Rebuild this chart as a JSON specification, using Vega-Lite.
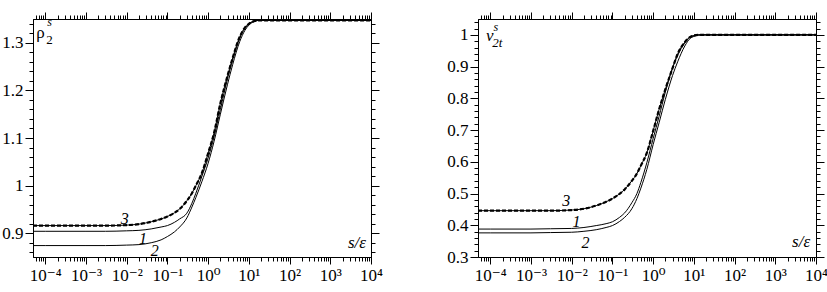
{
  "$schema": "https://vega.github.io/schema/vega-lite/v6.json",
  "background": "white",
  "padding": {"left": 1, "top": 11, "right": 0, "bottom": 0},
  "spacing": 63,
  "config": {
    "view": {"stroke": "black", "strokeWidth": 1},
    "font": "Times New Roman, Liberation Serif, DejaVu Serif, serif",
    "text": {"font": "Times New Roman, Liberation Serif, DejaVu Serif, serif"},
    "axis": {"grid": false, "domainColor": "black", "tickColor": "black", "labelColor": "black", "labelFont": "Times New Roman, Liberation Serif, DejaVu Serif, serif", "labelFontSize": 17, "title": null, "labelFlush": false, "labelOverlap": false, "labelBound": false}
  },
  "datasets": {
    "rho": [
      {"s":5e-5,"y":0.916,"c":3},{"s":1e-4,"y":0.916,"c":3},{"s":1e-3,"y":0.916,"c":3},{"s":0.003,"y":0.916,"c":3},{"s":0.01,"y":0.917,"c":3},{"s":0.02,"y":0.919,"c":3},{"s":0.04,"y":0.924,"c":3},{"s":0.07,"y":0.930,"c":3},{"s":0.1,"y":0.935,"c":3},{"s":0.15,"y":0.943,"c":3},{"s":0.2,"y":0.951,"c":3},{"s":0.3,"y":0.968,"c":3},{"s":0.4,"y":0.984,"c":3},{"s":0.5,"y":1.000,"c":3},{"s":0.7,"y":1.026,"c":3},{"s":1,"y":1.068,"c":3},{"s":1.4,"y":1.111,"c":3},{"s":2,"y":1.173,"c":3},{"s":3,"y":1.231,"c":3},{"s":4,"y":1.268,"c":3},{"s":6,"y":1.313,"c":3},{"s":8,"y":1.332,"c":3},{"s":10,"y":1.340,"c":3},{"s":13,"y":1.345,"c":3},{"s":17,"y":1.347,"c":3},{"s":25,"y":1.347,"c":3},{"s":100,"y":1.347,"c":3},{"s":1000,"y":1.347,"c":3},{"s":10000,"y":1.347,"c":3},
      {"s":5e-5,"y":0.904,"c":1},{"s":1e-4,"y":0.904,"c":1},{"s":1e-3,"y":0.904,"c":1},{"s":0.003,"y":0.904,"c":1},{"s":0.01,"y":0.905,"c":1},{"s":0.02,"y":0.906,"c":1},{"s":0.04,"y":0.909,"c":1},{"s":0.07,"y":0.913,"c":1},{"s":0.1,"y":0.916,"c":1},{"s":0.15,"y":0.923,"c":1},{"s":0.2,"y":0.930,"c":1},{"s":0.3,"y":0.942,"c":1},{"s":0.4,"y":0.963,"c":1},{"s":0.5,"y":0.984,"c":1},{"s":0.7,"y":1.019,"c":1},{"s":1,"y":1.058,"c":1},{"s":1.4,"y":1.103,"c":1},{"s":2,"y":1.160,"c":1},{"s":3,"y":1.225,"c":1},{"s":4,"y":1.264,"c":1},{"s":6,"y":1.310,"c":1},{"s":8,"y":1.330,"c":1},{"s":10,"y":1.340,"c":1},{"s":13,"y":1.345,"c":1},{"s":17,"y":1.347,"c":1},{"s":25,"y":1.347,"c":1},{"s":100,"y":1.347,"c":1},{"s":1000,"y":1.347,"c":1},{"s":10000,"y":1.347,"c":1},
      {"s":5e-5,"y":0.874,"c":2},{"s":1e-4,"y":0.874,"c":2},{"s":1e-3,"y":0.874,"c":2},{"s":0.003,"y":0.874,"c":2},{"s":0.01,"y":0.875,"c":2},{"s":0.02,"y":0.876,"c":2},{"s":0.04,"y":0.880,"c":2},{"s":0.07,"y":0.886,"c":2},{"s":0.1,"y":0.893,"c":2},{"s":0.15,"y":0.903,"c":2},{"s":0.2,"y":0.913,"c":2},{"s":0.3,"y":0.932,"c":2},{"s":0.4,"y":0.955,"c":2},{"s":0.5,"y":0.975,"c":2},{"s":0.7,"y":1.008,"c":2},{"s":1,"y":1.047,"c":2},{"s":1.4,"y":1.093,"c":2},{"s":2,"y":1.150,"c":2},{"s":3,"y":1.213,"c":2},{"s":4,"y":1.254,"c":2},{"s":6,"y":1.303,"c":2},{"s":8,"y":1.326,"c":2},{"s":10,"y":1.337,"c":2},{"s":13,"y":1.344,"c":2},{"s":17,"y":1.347,"c":2},{"s":25,"y":1.347,"c":2},{"s":100,"y":1.347,"c":2},{"s":1000,"y":1.347,"c":2},{"s":10000,"y":1.347,"c":2}
    ],
    "v": [
      {"s":5e-5,"y":0.446,"c":3},{"s":1e-4,"y":0.446,"c":3},{"s":1e-3,"y":0.446,"c":3},{"s":0.003,"y":0.446,"c":3},{"s":0.01,"y":0.448,"c":3},{"s":0.02,"y":0.452,"c":3},{"s":0.04,"y":0.462,"c":3},{"s":0.07,"y":0.474,"c":3},{"s":0.1,"y":0.484,"c":3},{"s":0.15,"y":0.499,"c":3},{"s":0.2,"y":0.513,"c":3},{"s":0.3,"y":0.540,"c":3},{"s":0.4,"y":0.563,"c":3},{"s":0.5,"y":0.588,"c":3},{"s":0.7,"y":0.628,"c":3},{"s":1,"y":0.697,"c":3},{"s":1.4,"y":0.765,"c":3},{"s":2,"y":0.829,"c":3},{"s":3,"y":0.895,"c":3},{"s":4,"y":0.940,"c":3},{"s":6,"y":0.977,"c":3},{"s":8,"y":0.993,"c":3},{"s":10,"y":0.998,"c":3},{"s":13,"y":1.0,"c":3},{"s":17,"y":1.0,"c":3},{"s":25,"y":1.0,"c":3},{"s":100,"y":1.0,"c":3},{"s":1000,"y":1.0,"c":3},{"s":10000,"y":1.0,"c":3},
      {"s":5e-5,"y":0.388,"c":1},{"s":1e-4,"y":0.388,"c":1},{"s":1e-3,"y":0.388,"c":1},{"s":0.003,"y":0.389,"c":1},{"s":0.01,"y":0.390,"c":1},{"s":0.02,"y":0.393,"c":1},{"s":0.04,"y":0.399,"c":1},{"s":0.07,"y":0.405,"c":1},{"s":0.1,"y":0.411,"c":1},{"s":0.15,"y":0.425,"c":1},{"s":0.2,"y":0.439,"c":1},{"s":0.3,"y":0.471,"c":1},{"s":0.4,"y":0.500,"c":1},{"s":0.5,"y":0.535,"c":1},{"s":0.7,"y":0.597,"c":1},{"s":1,"y":0.673,"c":1},{"s":1.4,"y":0.743,"c":1},{"s":2,"y":0.820,"c":1},{"s":3,"y":0.896,"c":1},{"s":4,"y":0.935,"c":1},{"s":6,"y":0.975,"c":1},{"s":8,"y":0.993,"c":1},{"s":10,"y":0.997,"c":1},{"s":13,"y":1.0,"c":1},{"s":17,"y":1.0,"c":1},{"s":25,"y":1.0,"c":1},{"s":100,"y":1.0,"c":1},{"s":1000,"y":1.0,"c":1},{"s":10000,"y":1.0,"c":1},
      {"s":5e-5,"y":0.376,"c":2},{"s":1e-4,"y":0.376,"c":2},{"s":1e-3,"y":0.376,"c":2},{"s":0.003,"y":0.377,"c":2},{"s":0.01,"y":0.378,"c":2},{"s":0.02,"y":0.381,"c":2},{"s":0.04,"y":0.386,"c":2},{"s":0.07,"y":0.393,"c":2},{"s":0.1,"y":0.399,"c":2},{"s":0.15,"y":0.412,"c":2},{"s":0.2,"y":0.425,"c":2},{"s":0.3,"y":0.452,"c":2},{"s":0.4,"y":0.484,"c":2},{"s":0.5,"y":0.517,"c":2},{"s":0.7,"y":0.576,"c":2},{"s":1,"y":0.654,"c":2},{"s":1.4,"y":0.723,"c":2},{"s":2,"y":0.797,"c":2},{"s":3,"y":0.872,"c":2},{"s":4,"y":0.915,"c":2},{"s":6,"y":0.965,"c":2},{"s":8,"y":0.988,"c":2},{"s":10,"y":0.995,"c":2},{"s":13,"y":0.999,"c":2},{"s":17,"y":1.0,"c":2},{"s":25,"y":1.0,"c":2},{"s":100,"y":1.0,"c":2},{"s":1000,"y":1.0,"c":2},{"s":10000,"y":1.0,"c":2}
    ]
  },
  "hconcat": [
    {
      "width": 338, "height": 238,
      "data": {"name": "rho"},
      "resolve": {"axis": {"x": "independent", "y": "independent"}},
      "layer": [
        {
          "mark": {"type": "line", "color": "black", "strokeWidth": 1, "interpolate": "monotone", "clip": true},
          "encoding": {
            "x": {"field": "s", "type": "quantitative", "scale": {"type": "log", "domain": [5e-5, 10000], "nice": false},
              "axis": {"orient": "bottom", "values": [6e-5,7e-5,8e-5,9e-5,0.0001,0.0002,0.0003,0.0004,0.0005,0.0006,0.0007,0.0008,0.0009,0.001,0.002,0.003,0.004,0.005,0.006,0.007,0.008,0.009,0.01,0.02,0.03,0.04,0.05,0.06,0.07,0.08,0.09,0.1,0.2,0.3,0.4,0.5,0.6,0.7,0.8,0.9,1,2,3,4,5,6,7,8,9,10,20,30,40,50,60,70,80,90,100,200,300,400,500,600,700,800,900,1000,2000,3000,4000,5000,6000,7000,8000,9000,10000],
                "labelExpr": "abs(log(datum.value)/LN10 - round(log(datum.value)/LN10)) < 1e-6 ? '10' + ['⁻⁴','⁻³','⁻²','⁻¹','⁰','¹','²','³','⁴'][round(log(datum.value)/LN10) + 4] : ''",
                "tickSize": {"condition": {"test": "abs(log(datum.value)/LN10 - round(log(datum.value)/LN10)) < 1e-6", "value": 7}, "value": 4},
                "labelPadding": 3}},
            "y": {"field": "y", "type": "quantitative", "scale": {"domain": [0.85, 1.35], "zero": false, "nice": false},
              "axis": {"orient": "left", "values": [0.86,0.88,0.9,0.92,0.94,0.96,0.98,1,1.02,1.04,1.06,1.08,1.1,1.12,1.14,1.16,1.18,1.2,1.22,1.24,1.26,1.28,1.3,1.32,1.34],
                "labelExpr": "abs(datum.value*10 - round(datum.value*10)) < 1e-6 ? toString(round(datum.value*10)/10) : ''",
                "tickSize": {"condition": {"test": "abs(datum.value*10 - round(datum.value*10)) < 1e-6", "value": 8}, "value": 4},
                "labelPadding": 2}},
            "detail": {"field": "c", "type": "nominal"}
          }
        },
        {
          "transform": [{"filter": "datum.c == 3"}],
          "mark": {"type": "line", "color": "black", "strokeWidth": 2.2, "strokeDash": [4, 2], "interpolate": "monotone", "clip": true},
          "encoding": {
            "x": {"field": "s", "type": "quantitative", "scale": {"type": "log", "domain": [5e-5, 10000], "nice": false},
              "axis": {"orient": "top", "labels": false, "values": [6e-5,7e-5,8e-5,9e-5,0.0001,0.0002,0.0003,0.0004,0.0005,0.0006,0.0007,0.0008,0.0009,0.001,0.002,0.003,0.004,0.005,0.006,0.007,0.008,0.009,0.01,0.02,0.03,0.04,0.05,0.06,0.07,0.08,0.09,0.1,0.2,0.3,0.4,0.5,0.6,0.7,0.8,0.9,1,2,3,4,5,6,7,8,9,10,20,30,40,50,60,70,80,90,100,200,300,400,500,600,700,800,900,1000,2000,3000,4000,5000,6000,7000,8000,9000,10000],
                "tickSize": {"condition": {"test": "abs(log(datum.value)/LN10 - round(log(datum.value)/LN10)) < 1e-6", "value": 7}, "value": 4}}},
            "y": {"field": "y", "type": "quantitative", "scale": {"domain": [0.85, 1.35], "zero": false, "nice": false},
              "axis": {"orient": "right", "labels": false, "values": [0.86,0.88,0.9,0.92,0.94,0.96,0.98,1,1.02,1.04,1.06,1.08,1.1,1.12,1.14,1.16,1.18,1.2,1.22,1.24,1.26,1.28,1.3,1.32,1.34],
                "tickSize": {"condition": {"test": "abs(datum.value*10 - round(datum.value*10)) < 1e-6", "value": 8}, "value": 4}}}
          }
        },
        {
          "data": {"values": [{"s": 0.0089, "y": 0.920, "t": "3"}, {"s": 0.0251, "y": 0.878, "t": "1"}, {"s": 0.049, "y": 0.853, "t": "2"}]},
          "mark": {"type": "text", "fontStyle": "italic", "fontSize": 16, "align": "center", "baseline": "alphabetic", "color": "black"},
          "encoding": {"x": {"field": "s", "type": "quantitative", "axis": null}, "y": {"field": "y", "type": "quantitative", "axis": null}, "text": {"field": "t"}}
        },
        {
          "data": {"values": [{"s": 7560, "y": 0.868, "t": "s/ε"}]},
          "mark": {"type": "text", "fontStyle": "italic", "fontSize": 17, "align": "right", "baseline": "alphabetic", "color": "black"},
          "encoding": {"x": {"field": "s", "type": "quantitative", "axis": null}, "y": {"field": "y", "type": "quantitative", "axis": null}, "text": {"field": "t"}}
        },
        {
          "data": {"values": [{"s": 6.0e-5, "y": 1.310, "t": "ρ"}]},
          "mark": {"type": "text", "fontSize": 17, "align": "left", "baseline": "alphabetic", "color": "black"},
          "encoding": {"x": {"field": "s", "type": "quantitative", "axis": null}, "y": {"field": "y", "type": "quantitative", "axis": null}, "text": {"field": "t"}}
        },
        {
          "data": {"values": [{"s": 1.12e-4, "y": 1.335, "t": "s"}]},
          "mark": {"type": "text", "fontStyle": "italic", "fontSize": 12, "align": "left", "baseline": "alphabetic", "color": "black"},
          "encoding": {"x": {"field": "s", "type": "quantitative", "axis": null}, "y": {"field": "y", "type": "quantitative", "axis": null}, "text": {"field": "t"}}
        },
        {
          "data": {"values": [{"s": 1.06e-4, "y": 1.297, "t": "2"}]},
          "mark": {"type": "text", "fontSize": 13, "align": "left", "baseline": "alphabetic", "color": "black"},
          "encoding": {"x": {"field": "s", "type": "quantitative", "axis": null}, "y": {"field": "y", "type": "quantitative", "axis": null}, "text": {"field": "t"}}
        }
      ]
    },
    {
      "width": 338, "height": 238,
      "data": {"name": "v"},
      "resolve": {"axis": {"x": "independent", "y": "independent"}},
      "layer": [
        {
          "mark": {"type": "line", "color": "black", "strokeWidth": 1, "interpolate": "monotone", "clip": true},
          "encoding": {
            "x": {"field": "s", "type": "quantitative", "scale": {"type": "log", "domain": [5e-5, 10000], "nice": false},
              "axis": {"orient": "bottom", "values": [6e-5,7e-5,8e-5,9e-5,0.0001,0.0002,0.0003,0.0004,0.0005,0.0006,0.0007,0.0008,0.0009,0.001,0.002,0.003,0.004,0.005,0.006,0.007,0.008,0.009,0.01,0.02,0.03,0.04,0.05,0.06,0.07,0.08,0.09,0.1,0.2,0.3,0.4,0.5,0.6,0.7,0.8,0.9,1,2,3,4,5,6,7,8,9,10,20,30,40,50,60,70,80,90,100,200,300,400,500,600,700,800,900,1000,2000,3000,4000,5000,6000,7000,8000,9000,10000],
                "labelExpr": "abs(log(datum.value)/LN10 - round(log(datum.value)/LN10)) < 1e-6 ? '10' + ['⁻⁴','⁻³','⁻²','⁻¹','⁰','¹','²','³','⁴'][round(log(datum.value)/LN10) + 4] : ''",
                "tickSize": {"condition": {"test": "abs(log(datum.value)/LN10 - round(log(datum.value)/LN10)) < 1e-6", "value": 7}, "value": 4},
                "labelPadding": 3}},
            "y": {"field": "y", "type": "quantitative", "scale": {"domain": [0.3, 1.05], "zero": false, "nice": false},
              "axis": {"orient": "left", "values": [0.3,0.32,0.34,0.36,0.38,0.4,0.42,0.44,0.46,0.48,0.5,0.52,0.54,0.56,0.58,0.6,0.62,0.64,0.66,0.68,0.7,0.72,0.74,0.76,0.78,0.8,0.82,0.84,0.86,0.88,0.9,0.92,0.94,0.96,0.98,1,1.02,1.04],
                "labelExpr": "abs(datum.value*10 - round(datum.value*10)) < 1e-6 ? toString(round(datum.value*10)/10) : ''",
                "tickSize": {"condition": {"test": "abs(datum.value*10 - round(datum.value*10)) < 1e-6", "value": 8}, "value": 4},
                "labelPadding": 2}},
            "detail": {"field": "c", "type": "nominal"}
          }
        },
        {
          "transform": [{"filter": "datum.c == 3"}],
          "mark": {"type": "line", "color": "black", "strokeWidth": 2.2, "strokeDash": [4, 2], "interpolate": "monotone", "clip": true},
          "encoding": {
            "x": {"field": "s", "type": "quantitative", "scale": {"type": "log", "domain": [5e-5, 10000], "nice": false},
              "axis": {"orient": "top", "labels": false, "values": [6e-5,7e-5,8e-5,9e-5,0.0001,0.0002,0.0003,0.0004,0.0005,0.0006,0.0007,0.0008,0.0009,0.001,0.002,0.003,0.004,0.005,0.006,0.007,0.008,0.009,0.01,0.02,0.03,0.04,0.05,0.06,0.07,0.08,0.09,0.1,0.2,0.3,0.4,0.5,0.6,0.7,0.8,0.9,1,2,3,4,5,6,7,8,9,10,20,30,40,50,60,70,80,90,100,200,300,400,500,600,700,800,900,1000,2000,3000,4000,5000,6000,7000,8000,9000,10000],
                "tickSize": {"condition": {"test": "abs(log(datum.value)/LN10 - round(log(datum.value)/LN10)) < 1e-6", "value": 7}, "value": 4}}},
            "y": {"field": "y", "type": "quantitative", "scale": {"domain": [0.3, 1.05], "zero": false, "nice": false},
              "axis": {"orient": "right", "labels": false, "values": [0.3,0.32,0.34,0.36,0.38,0.4,0.42,0.44,0.46,0.48,0.5,0.52,0.54,0.56,0.58,0.6,0.62,0.64,0.66,0.68,0.7,0.72,0.74,0.76,0.78,0.8,0.82,0.84,0.86,0.88,0.9,0.92,0.94,0.96,0.98,1,1.02,1.04],
                "tickSize": {"condition": {"test": "abs(datum.value*10 - round(datum.value*10)) < 1e-6", "value": 8}, "value": 4}}}
          }
        },
        {
          "data": {"values": [{"s": 0.0074, "y": 0.460, "t": "3"}, {"s": 0.0131, "y": 0.393, "t": "1"}, {"s": 0.0219, "y": 0.327, "t": "2"}]},
          "mark": {"type": "text", "fontStyle": "italic", "fontSize": 16, "align": "center", "baseline": "alphabetic", "color": "black"},
          "encoding": {"x": {"field": "s", "type": "quantitative", "axis": null}, "y": {"field": "y", "type": "quantitative", "axis": null}, "text": {"field": "t"}}
        },
        {
          "data": {"values": [{"s": 7160, "y": 0.330, "t": "s/ε"}]},
          "mark": {"type": "text", "fontStyle": "italic", "fontSize": 17, "align": "right", "baseline": "alphabetic", "color": "black"},
          "encoding": {"x": {"field": "s", "type": "quantitative", "axis": null}, "y": {"field": "y", "type": "quantitative", "axis": null}, "text": {"field": "t"}}
        },
        {
          "data": {"values": [{"s": 7.85e-5, "y": 0.980, "t": "v"}]},
          "mark": {"type": "text", "fontStyle": "italic", "fontSize": 17, "align": "left", "baseline": "alphabetic", "color": "black"},
          "encoding": {"x": {"field": "s", "type": "quantitative", "axis": null}, "y": {"field": "y", "type": "quantitative", "axis": null}, "text": {"field": "t"}}
        },
        {
          "data": {"values": [{"s": 1.2e-4, "y": 1.012, "t": "s"}]},
          "mark": {"type": "text", "fontStyle": "italic", "fontSize": 12, "align": "left", "baseline": "alphabetic", "color": "black"},
          "encoding": {"x": {"field": "s", "type": "quantitative", "axis": null}, "y": {"field": "y", "type": "quantitative", "axis": null}, "text": {"field": "t"}}
        },
        {
          "data": {"values": [{"s": 1.12e-4, "y": 0.962, "t": "2t"}]},
          "mark": {"type": "text", "fontStyle": "italic", "fontSize": 13, "align": "left", "baseline": "alphabetic", "color": "black"},
          "encoding": {"x": {"field": "s", "type": "quantitative", "axis": null}, "y": {"field": "y", "type": "quantitative", "axis": null}, "text": {"field": "t"}}
        }
      ]
    }
  ]
}
